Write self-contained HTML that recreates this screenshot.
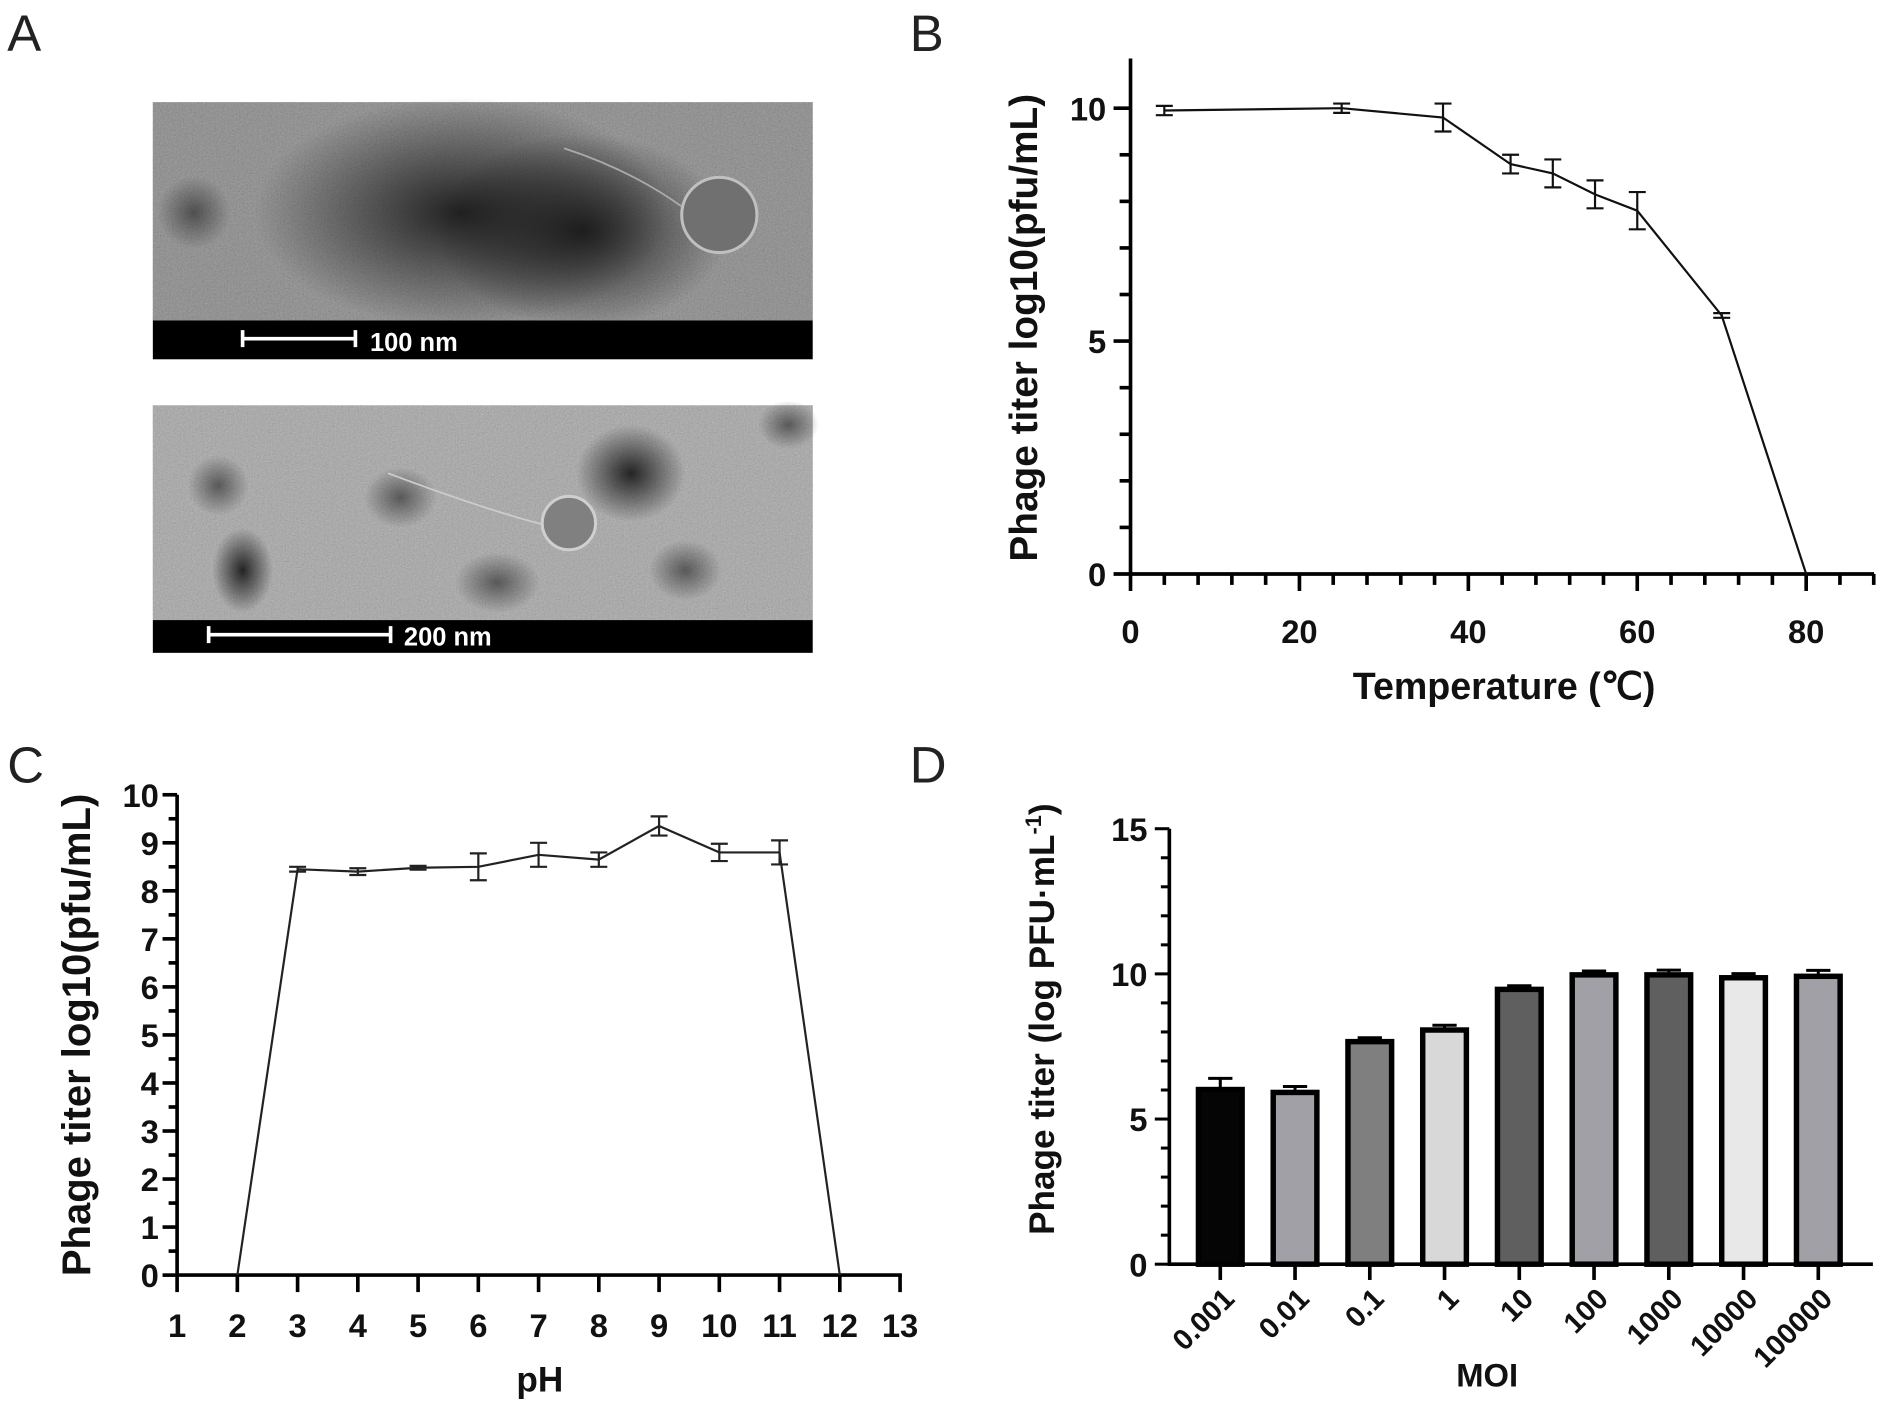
<!DOCTYPE html>
<html><head><meta charset="utf-8">
<style>
html,body{margin:0;padding:0;background:#fff;}
svg{display:block;}
text{font-family:"Liberation Sans",Arial,sans-serif;}
.t{font-weight:bold;fill:#111;}
</style></head>
<body>
<svg id="fig" width="1902" height="1410" viewBox="0 0 1568 1162" xmlns="http://www.w3.org/2000/svg">
<defs>
<filter id="noise" x="0" y="0" width="100%" height="100%">
<feTurbulence type="fractalNoise" baseFrequency="0.8" numOctaves="2" seed="3" result="n"/>
<feColorMatrix type="matrix" in="n" values="0.33 0.33 0.33 0 0  0.33 0.33 0.33 0 0  0.33 0.33 0.33 0 0  0 0 0 0 1"/>
</filter>
<radialGradient id="dk"><stop offset="0" stop-color="#151515" stop-opacity="0.9"/><stop offset="1" stop-color="#151515" stop-opacity="0"/></radialGradient>
<radialGradient id="dk2"><stop offset="0" stop-color="#222" stop-opacity="0.6"/><stop offset="1" stop-color="#222" stop-opacity="0"/></radialGradient>
</defs>

<text x="6" y="42" font-size="42" fill="#222">A</text>
<text x="750" y="42" font-size="42" fill="#222">B</text>
<text x="6" y="645" font-size="42" fill="#222">C</text>
<text x="750" y="645" font-size="42" fill="#222">D</text>

<g>
<rect x="126" y="84" width="544" height="180" fill="#7e7e7e"/>
<rect x="126" y="84" width="544" height="180" fill="#888" filter="url(#noise)" opacity="0.35"/>
<ellipse cx="380" cy="175" rx="170" ry="95" fill="url(#dk)"/>
<ellipse cx="480" cy="190" rx="120" ry="80" fill="url(#dk)"/>
<ellipse cx="160" cy="175" rx="30" ry="30" fill="url(#dk2)"/>
<circle cx="593" cy="177" r="31" fill="#707070" stroke="#c0c0c0" stroke-width="2.5"/>
<path d="M562 170 Q520 140 465 122" stroke="#aaa" stroke-width="1.5" fill="none"/>
<rect x="126" y="264" width="544" height="32" fill="#000"/>
<path d="M200 279 H293 M200 272 V286 M293 272 V286" stroke="#fff" stroke-width="3"/>
<text x="305" y="289" font-size="21" font-weight="bold" fill="#fff">100 nm</text>
</g>
<g>
<rect x="126" y="334" width="544" height="177" fill="#a2a2a2"/>
<rect x="126" y="334" width="544" height="177" fill="#aaa" filter="url(#noise)" opacity="0.35"/>
<ellipse cx="200" cy="470" rx="25" ry="35" fill="url(#dk)"/>
<ellipse cx="520" cy="390" rx="45" ry="40" fill="url(#dk)"/>
<ellipse cx="565" cy="470" rx="30" ry="25" fill="url(#dk2)"/>
<ellipse cx="410" cy="480" rx="35" ry="25" fill="url(#dk2)"/>
<ellipse cx="330" cy="410" rx="30" ry="25" fill="url(#dk2)"/>
<ellipse cx="650" cy="350" rx="25" ry="20" fill="url(#dk2)"/>
<ellipse cx="180" cy="400" rx="25" ry="25" fill="url(#dk2)"/>
<circle cx="469" cy="431" r="22" fill="#808080" stroke="#cfcfcf" stroke-width="2.5"/>
<path d="M447 432 Q400 420 320 390" stroke="#ccc" stroke-width="1.5" fill="none"/>
<rect x="126" y="511" width="544" height="27" fill="#000"/>
<path d="M172 523 H322 M172 516 V530 M322 516 V530" stroke="#fff" stroke-width="3"/>
<text x="333" y="532" font-size="21" font-weight="bold" fill="#fff">200 nm</text>
</g>

<g id="chartB"></g>
<g id="chartC"></g>
<g id="chartD"></g>
</svg>

<script>
// ---- Panel B data ----
const tempX = [4, 25, 37, 45, 50, 55, 60, 70, 80];
const tempY = [9.95, 10.0, 9.8, 8.8, 8.6, 8.15, 7.8, 5.55, 0];
const tempErr = [0.1, 0.1, 0.3, 0.2, 0.3, 0.3, 0.4, 0.05, 0];
const tempXTicks = [0, 20, 40, 60, 80];
const tempYTicks = [0, 5, 10];

// ---- Panel C data ----
const phX = [2, 3, 4, 5, 6, 7, 8, 9, 10, 11, 12];
const phY = [0, 8.45, 8.4, 8.48, 8.5, 8.75, 8.65, 9.35, 8.8, 8.8, 0];
const phErr = [0, 0.05, 0.07, 0.04, 0.28, 0.25, 0.15, 0.2, 0.18, 0.25, 0];
const phXTicks = [1,2,3,4,5,6,7,8,9,10,11,12,13];
const phYTicks = [0,1,2,3,4,5,6,7,8,9,10];

// ---- Panel D data ----
const moiCats = ["0.001","0.01","0.1","1","10","100","1000","10000","100000"];
const moiVals = [6.1, 6.0, 7.75, 8.15, 9.55, 10.05, 10.05, 9.95, 10.0];
const moiErr = [0.3, 0.12, 0.05, 0.08, 0.04, 0.05, 0.08, 0.06, 0.12];
const moiColors = ["#050505","#a0a0a6","#7f7f7f","#d8d8d8","#5f5f5f","#a0a0a6","#5f5f5f","#e8e8e8","#a0a0a6"];
const moiYTicks = [0, 5, 10, 15];

const NS = "http://www.w3.org/2000/svg";
function mk(parent, tag, attrs, txt) {
  const e = document.createElementNS(NS, tag);
  for (const k in attrs) e.setAttribute(k, attrs[k]);
  if (txt !== undefined) e.textContent = txt;
  parent.appendChild(e);
  return e;
}

// ===== Panel B =====
(function(){
  const g = document.getElementById('chartB');
  const x0 = 932, y0 = 473;
  const sx = v => x0 + v * (1489 - 932) / 80;
  const sy = v => y0 - v * (473 - 89) / 10;
  let e;
  e = mk(g, 'line', {x1:x0, y1:y0, x2:1545, y2:y0, stroke:'#000', 'stroke-width':3});
  
  
  e = mk(g, 'line', {x1:x0, y1:48, x2:x0, y2:y0+1.5, stroke:'#000', 'stroke-width':3});
  
  
  for (let v = 0; v <= 88; v += 4) {
    const major = v % 20 === 0;
    mk(g, 'line', {x1:sx(v), y1:y0, x2:sx(v), y2:y0 + (major ? 14 : 9), stroke:'#000', 'stroke-width':3});
  }
  for (let v = 0; v <= 10; v++) {
    const major = v % 5 === 0;
    mk(g, 'line', {x1:x0, y1:sy(v), x2:x0 - (major ? 14 : 9), y2:sy(v), stroke:'#000', 'stroke-width':3});
  }
  tempXTicks.forEach(v => {
    e = mk(g, 'text', {x:sx(v), y:530, 'font-size':27, 'text-anchor':'middle', class:'t'}, String(v));
    
    
  });
  tempYTicks.forEach(v => {
    e = mk(g, 'text', {x:912, y:sy(v) + 10, 'font-size':27, 'text-anchor':'end', class:'t'}, String(v));
    
    
  });
  e = mk(g, 'text', {x:1240, y:576, 'font-size':31, 'text-anchor':'middle', class:'t'}, 'Temperature (℃)');
  
  
  e = mk(g, 'text', {x:0, y:0, 'font-size':32, 'text-anchor':'middle', class:'t', transform:'translate(855,270) rotate(-90)'}, 'Phage titer log10(pfu/mL)');
  
  
  const pts = tempX.map((v,i) => sx(v) + ',' + sy(tempY[i])).join(' ');
  e = mk(g, 'polyline', {points:pts, fill:'none', stroke:'#111', 'stroke-width':1.8});
  
  
  tempX.forEach((v,i) => {
    if (tempErr[i] <= 0) return;
    const cx = sx(v), a = sy(tempY[i] + tempErr[i]), b = sy(tempY[i] - tempErr[i]);
    e = mk(g, 'path', {d:`M${cx},${a}V${b}M${cx-7},${a}H${cx+7}M${cx-7},${b}H${cx+7}`, stroke:'#111', 'stroke-width':1.8, fill:'none'});
    
    
  });
})();

// ===== Panel C =====
(function(){
  const g = document.getElementById('chartC');
  const x0 = 146, y0 = 1051;
  const sx = v => x0 + (v - 1) * (742 - 146) / 12;
  const sy = v => y0 - v * (1051 - 655) / 10;
  let e;
  e = mk(g, 'line', {x1:x0, y1:y0, x2:sx(13)+1.5, y2:y0, stroke:'#000', 'stroke-width':3});
  
  
  e = mk(g, 'line', {x1:x0, y1:sy(10), x2:x0, y2:y0+1.5, stroke:'#000', 'stroke-width':3});
  
  
  phXTicks.forEach(v => {
    mk(g, 'line', {x1:sx(v), y1:y0, x2:sx(v), y2:y0+14, stroke:'#000', 'stroke-width':3});
    e = mk(g, 'text', {x:sx(v), y:1102, 'font-size':27, 'text-anchor':'middle', class:'t'}, String(v));
    
    
  });
  for (let v = 0; v <= 10; v += 0.5) {
    const major = Number.isInteger(v);
    mk(g, 'line', {x1:x0, y1:sy(v), x2:x0 - (major ? 12 : 7), y2:sy(v), stroke:'#000', 'stroke-width':3});
  }
  phYTicks.forEach(v => {
    e = mk(g, 'text', {x:131, y:sy(v) + 10, 'font-size':27, 'text-anchor':'end', class:'t'}, String(v));
    
    
  });
  e = mk(g, 'text', {x:445, y:1147, 'font-size':29, 'text-anchor':'middle', class:'t'}, 'pH');
  
  
  e = mk(g, 'text', {x:0, y:0, 'font-size':33, 'text-anchor':'middle', class:'t', transform:'translate(74,853) rotate(-90)'}, 'Phage titer log10(pfu/mL)');
  
  
  const pts = phX.map((v,i) => sx(v) + ',' + sy(phY[i])).join(' ');
  e = mk(g, 'polyline', {points:pts, fill:'none', stroke:'#222', 'stroke-width':1.8});
  
  
  phX.forEach((v,i) => {
    if (phErr[i] <= 0) return;
    const cx = sx(v), a = sy(phY[i] + phErr[i]), b = sy(phY[i] - phErr[i]);
    e = mk(g, 'path', {d:`M${cx},${a}V${b}M${cx-7},${a}H${cx+7}M${cx-7},${b}H${cx+7}`, stroke:'#222', 'stroke-width':1.8, fill:'none'});
    
    
  });
})();

// ===== Panel D =====
(function(){
  const g = document.getElementById('chartD');
  const x0 = 964, y0 = 1042;
  const sy = v => y0 - v * (1042 - 683) / 15;
  const bx = i => 1006 + i * (1499 - 1006) / 8;
  const bw = 40;
  let e;
  moiVals.forEach((v,i) => {
    const cx = bx(i);
    if (moiErr[i] > 0) {
      const a = sy(v + moiErr[i]);
      e = mk(g, 'path', {d:`M${cx},${sy(v)}V${a}M${cx-10},${a}H${cx+10}`, stroke:'#000', 'stroke-width':2.5, fill:'none'});
      
      
    }
    e = mk(g, 'rect', {x:cx - bw/2 + 2, y:sy(v) + 2, width:bw - 4, height:y0 - sy(v) - 2, fill:moiColors[i], stroke:'#000', 'stroke-width':4.5});
    
    
    mk(g, 'line', {x1:cx, y1:y0, x2:cx, y2:y0+13, stroke:'#000', 'stroke-width':3});
    e = mk(g, 'text', {x:0, y:0, 'font-size':24, 'text-anchor':'end', class:'t', transform:`translate(${cx+13},${y0+30}) rotate(-45)`}, moiCats[i]);
    
    
  });
  e = mk(g, 'line', {x1:x0, y1:y0, x2:1544, y2:y0, stroke:'#000', 'stroke-width':3});
  
  
  e = mk(g, 'line', {x1:x0, y1:sy(15), x2:x0, y2:y0+1.5, stroke:'#000', 'stroke-width':3});
  
  
  for (let v = 0; v <= 15; v++) {
    const major = v % 5 === 0;
    mk(g, 'line', {x1:x0, y1:sy(v), x2:x0 - (major ? 12 : 7), y2:sy(v), stroke:'#000', 'stroke-width':2.5});
  }
  moiYTicks.forEach(v => {
    e = mk(g, 'text', {x:946, y:sy(v) + 10, 'font-size':27, 'text-anchor':'end', class:'t'}, String(v));
    
    
  });
  e = mk(g, 'text', {x:1226, y:1143, 'font-size':27, 'text-anchor':'middle', class:'t'}, 'MOI');
  
  
  e = mk(g, 'text', {x:0, y:0, 'font-size':29, 'text-anchor':'middle', class:'t', transform:'translate(869,840) rotate(-90)'});
  
  
  e.textContent = 'Phage titer (log PFU·mL';
  mk(e, 'tspan', {dy:-11, 'font-size':18}, '-1');
  mk(e, 'tspan', {dy:11}, ')');
})();
</script>
</body></html>
